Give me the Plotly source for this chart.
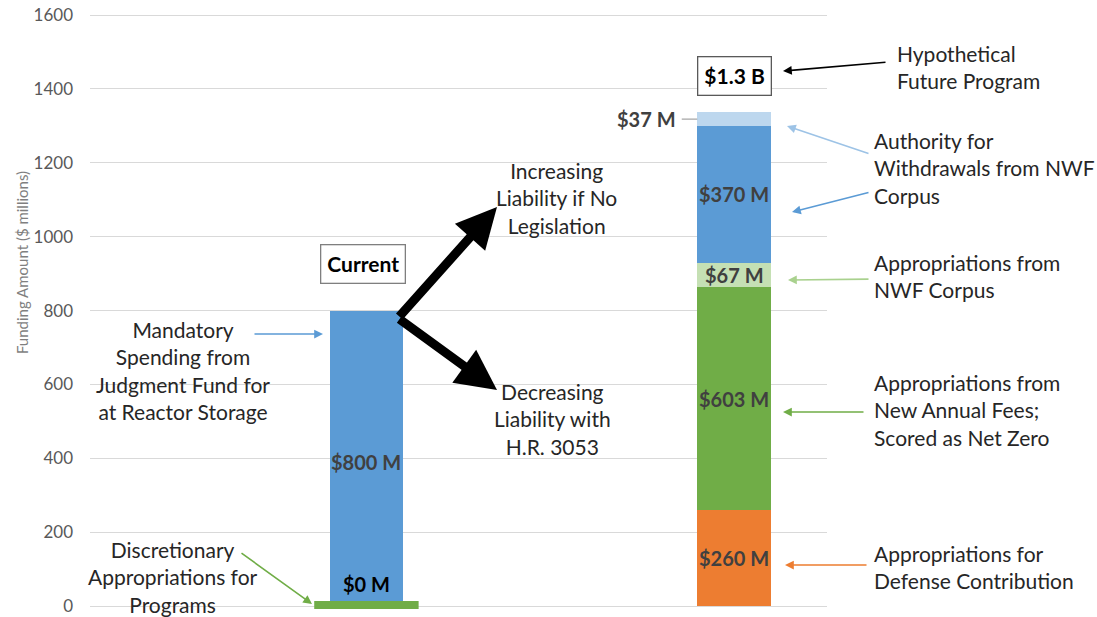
import plotly.graph_objects as go

# ---------------- data ----------------
categories = ["Current", "Hypothetical Future Program"]
cat_pos = [0, 1]

current_discretionary = 0      # $0 M discretionary appropriations
current_mandatory = 800        # $800 M judgment fund

future_labels = ["Defense Contribution", "New Annual Fees", "NWF Corpus Appropriations",
                 "NWF Corpus Withdrawals", "Top"]
future_values = [260, 603, 67, 370, 37]
future_colors = ["#ED7D31", "#70AD47", "#C5E0B4", "#5B9BD5", "#BDD7EE"]
future_total_label = "$1.3 B"

y_ticks = [0, 200, 400, 600, 800, 1000, 1200, 1400, 1600]

# ---------------- layout helpers ----------------
W, H = 1097, 617
PX_PER_UNIT = 591 / 1600
YR = [-8, 1603]
L = 90
T = 15 - (YR[1] - 1600) * PX_PER_UNIT
PH = (YR[1] - YR[0]) * PX_PER_UNIT
PW = 827 - 90
R = W - L - PW
B = H - T - PH
XR = [-0.752, 1.253]

def px(p):  # pixel x -> paper
    return (p - L) / PW

def py(p):  # pixel y -> paper
    return (T + PH - p) / PH

TXT = "#262626"
FONT = "Lato"
FS = 21

fig = go.Figure()

# left stack
fig.add_trace(go.Bar(x=[cat_pos[0]], y=[current_mandatory], width=0.2,
                     marker=dict(color="#5B9BD5", line=dict(width=0)),
                     textposition="none", hoverinfo="skip"))
# right stack
for lab, v, c in zip(future_labels, future_values, future_colors):
    fig.add_trace(go.Bar(x=[cat_pos[1]], y=[v], width=0.2, name=lab,
                         marker=dict(color=c, line=dict(width=0)),
                         textposition="none", hoverinfo="skip"))

# discretionary $0 M strip
fig.add_trace(go.Scatter(x=[cat_pos[0] - 0.142, cat_pos[0] + 0.142],
                         y=[current_discretionary, current_discretionary],
                         mode="lines", line=dict(color="#70AD47", width=10),
                         hoverinfo="skip"))

ann = []

def label(text, xv, yv, color="#404040", size=20, xanchor="center", **kw):
    ann.append(dict(x=xv, y=yv, xref="x", yref="y", text="<b>%s</b>" % text,
                    showarrow=False, xanchor=xanchor, yanchor="middle",
                    font=dict(family=FONT, size=size, color=color), **kw))

# bar labels
label("$%d M" % current_mandatory, cat_pos[0], current_mandatory / 2, yshift=-4)
label("$%d M" % current_discretionary, cat_pos[0], current_discretionary, color="#000000", yshift=22)
base = 0
for i, v in enumerate(future_values):
    mid = base + v / 2
    if i < len(future_values) - 1:
        label("$%d M" % v, cat_pos[1], mid)
    else:
        label("$%d M" % v, cat_pos[1] - 0.1, mid, xanchor="right", xshift=-19)
        ann.append(dict(x=cat_pos[1] - 0.1, y=mid, xref="x", yref="y", text="",
                        showarrow=True, arrowhead=0, arrowwidth=1.2, arrowcolor="#A6A6A6",
                        ax=-17, ay=0, standoff=0))
    base += v

# boxes
ann.append(dict(x=px(363), y=py(264), xref="paper", yref="paper", text="<b>Current</b>",
                showarrow=False, xanchor="center", yanchor="middle",
                font=dict(family=FONT, size=FS, color="#000000"),
                bordercolor="#7F7F7F", borderwidth=1.3, borderpad=6, bgcolor="white"))
ann.append(dict(x=px(734), y=py(76), xref="paper", yref="paper", text="<b>%s</b>" % future_total_label,
                showarrow=False, xanchor="center", yanchor="middle",
                font=dict(family=FONT, size=FS, color="#000000"),
                bordercolor="#595959", borderwidth=1.3, borderpad=6, bgcolor="white"))

def text(t, x, y, xanchor="center", align="center"):
    ann.append(dict(x=px(x), y=py(y), xref="paper", yref="paper", text=t, showarrow=False,
                    xanchor=xanchor, yanchor="middle", align=align,
                    font=dict(family=FONT, size=FS, color=TXT)))

text("Hypothetical<br>Future Program", 895, 67, "left", "left")
text("Authority for<br>Withdrawals from NWF<br>Corpus", 872, 168, "left", "left")
text("Appropriations from<br>NWF Corpus", 872, 276, "left", "left")
text("Appropriations from<br>New Annual Fees;<br>Scored as Net Zero", 872, 410, "left", "left")
text("Appropriations for<br>Defense Contribution", 872, 567, "left", "left")
text("Mandatory<br>Spending from<br>Judgment Fund for<br>at Reactor Storage", 183, 370)
text("Discretionary<br>Appropriations for<br>Programs", 173, 577)
text("Increasing<br>Liability if No<br>Legislation", 556, 198)
text("Decreasing<br>Liability with<br>H.R. 3053", 552, 419)

def arrow(head, tail, color, width=1.6, size=1.1):
    ann.append(dict(x=px(head[0]), y=py(head[1]), xref="paper", yref="paper", text="",
                    showarrow=True, arrowhead=2, arrowsize=size, arrowwidth=width,
                    arrowcolor=color, ax=tail[0] - head[0], ay=tail[1] - head[1],
                    standoff=0, startstandoff=0))

arrow((783, 71), (887, 62), "#000000")
arrow((787, 126), (870, 154), "#9DC3E6")
arrow((792, 212), (870, 192), "#5B9BD5")
arrow((788, 280), (870, 279), "#A9D18E")
arrow((783, 412), (865, 412), "#70AD47")
arrow((785, 565), (868, 565), "#ED7D31")
arrow((323, 334), (253, 334), "#5B9BD5")
arrow((312, 604), (240, 552), "#70AD47")
# big liability arrows
arrow((497, 207), (398, 318), "#000000", width=9, size=0.9)
arrow((497, 390), (398, 318), "#000000", width=9, size=0.9)

# y-axis title
ann.append(dict(x=px(22), y=py(263), xref="paper", yref="paper",
                text="Funding Amount ($ millions)", textangle=-90, showarrow=False,
                xanchor="center", yanchor="middle",
                font=dict(family=FONT, size=15, color="#7F7F7F")))

fig.update_layout(
    width=W, height=H, autosize=False,
    margin=dict(l=L, r=R, t=T, b=B, pad=0, autoexpand=False),
    paper_bgcolor="white", plot_bgcolor="white",
    barmode="stack", showlegend=False, bargap=0,
    annotations=ann,
    xaxis=dict(range=XR, showgrid=False, zeroline=False, showticklabels=False,
               showline=False, ticks="", fixedrange=True, automargin=False),
    yaxis=dict(range=YR, tickvals=y_ticks, ticktext=[str(v) for v in y_ticks],
               showgrid=True, gridcolor="#D9D9D9", gridwidth=1,
               zeroline=True, zerolinecolor="#D9D9D9", zerolinewidth=1,
               showline=False, ticks="", ticklabelstandoff=16, automargin=False,
               ticklabeloverflow="allow",
               tickfont=dict(family=FONT, size=17, color="#595959"), fixedrange=True),
)

fig.write_html("out.html", config={"displayModeBar": False},
               post_script="document.body.style.margin='0';document.body.style.overflow='hidden';")
